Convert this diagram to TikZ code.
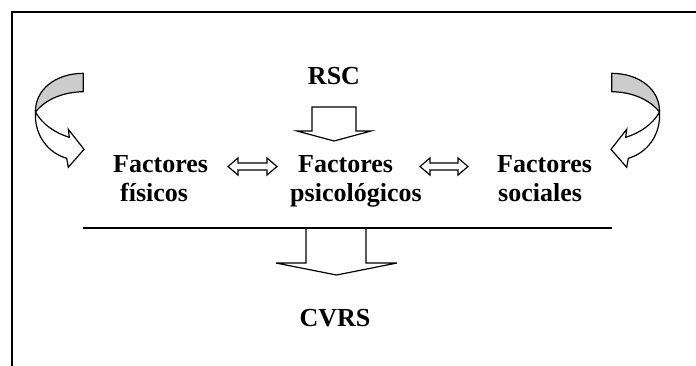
\documentclass[tikz,border=0pt]{standalone}
\usepackage{fontspec}
\setmainfont{Liberation Serif}
\begin{document}
\begin{tikzpicture}[x=1pt,y=-1pt,
  lbl/.style={inner sep=0pt,font=\fontsize{26}{29}\selectfont\bfseries},
  blockarrow/.style={draw=black,line width=1.2pt,fill=white,line join=miter},
  backface/.style={draw=black,line width=1.2pt,fill=black!20,line join=round},
  frontface/.style={draw=black,line width=1.2pt,fill=white,line join=miter},
  curvedarrow/.pic={
    % far side of the ribbon, shaded
    \path[backface] (83.3,73.3) .. controls (55,73.5) and (35,90) .. (35.5,112)
      .. controls (45,100) and (62,92) .. (83.3,91.7) -- cycle;
    % near side of the ribbon with its head
    \path[frontface] (35.5,112) .. controls (34,135) and (48,153) .. (66.7,158.3)
      -- (68.3,167.3) -- (84,149.3) -- (68.3,129.3) -- (69.3,137.3)
      .. controls (55,133) and (42,124) .. (35.5,112) -- cycle;
  }]
\clip (0,0) rectangle (696,365);
\useasboundingbox (0,0) rectangle (696,365);
\fill[white] (0,0) rectangle (696,365);

% frame
\draw[line width=2pt] (12,370) -- (12,11.5) -- (700,11.5);

% labels
\node[lbl,anchor=base] (rsc) at (334,84) {RSC};
\node[lbl,anchor=base west] (fis1) at (113,172) {Factores};
\node[lbl,anchor=base west] (fis2) at (120,201) {físicos};
\node[lbl,anchor=base west] (psi1) at (298,172) {Factores};
\node[lbl,anchor=base west] (psi2) at (290,201) {psicológicos};
\node[lbl,anchor=base west] (soc1) at (497,172) {Factores};
\node[lbl,anchor=base west] (soc2) at (498,201) {sociales};
\node[lbl,anchor=base] (cvrs) at (335,326) {CVRS};

% RSC feeding into the psychological factors
\draw[blockarrow] (312,107) -- (356,107) -- (356,131) -- (371,131) -- (334,141)
  -- (297,131) -- (312,131) -- cycle;

% two-way links between the groups of factors
\draw[blockarrow] (228,166.5) -- (238,158) -- (238,163) -- (267,163) -- (267,158)
  -- (277,166.5) -- (267,175) -- (267,170) -- (238,170) -- (238,175) -- cycle;
\draw[blockarrow] (420,166.5) -- (430,158) -- (430,163) -- (458,163) -- (458,158)
  -- (468,166.5) -- (458,175) -- (458,170) -- (430,170) -- (430,175) -- cycle;

% feedback loops at both sides
\pic at (0,0) {curvedarrow};
\pic[xscale=-1] at (695,0) {curvedarrow};

% summary line and the arrow down to CVRS
\coordinate (lineL) at (83,228);
\coordinate (lineR) at (612,228);
\draw[blockarrow] (306,228) -- (306,263) -- (276,263) -- (336.5,275) -- (397,263)
  -- (366,263) -- (366,228);
\draw[line width=1.6pt] (lineL) -- (lineR);
\end{tikzpicture}
\end{document}
